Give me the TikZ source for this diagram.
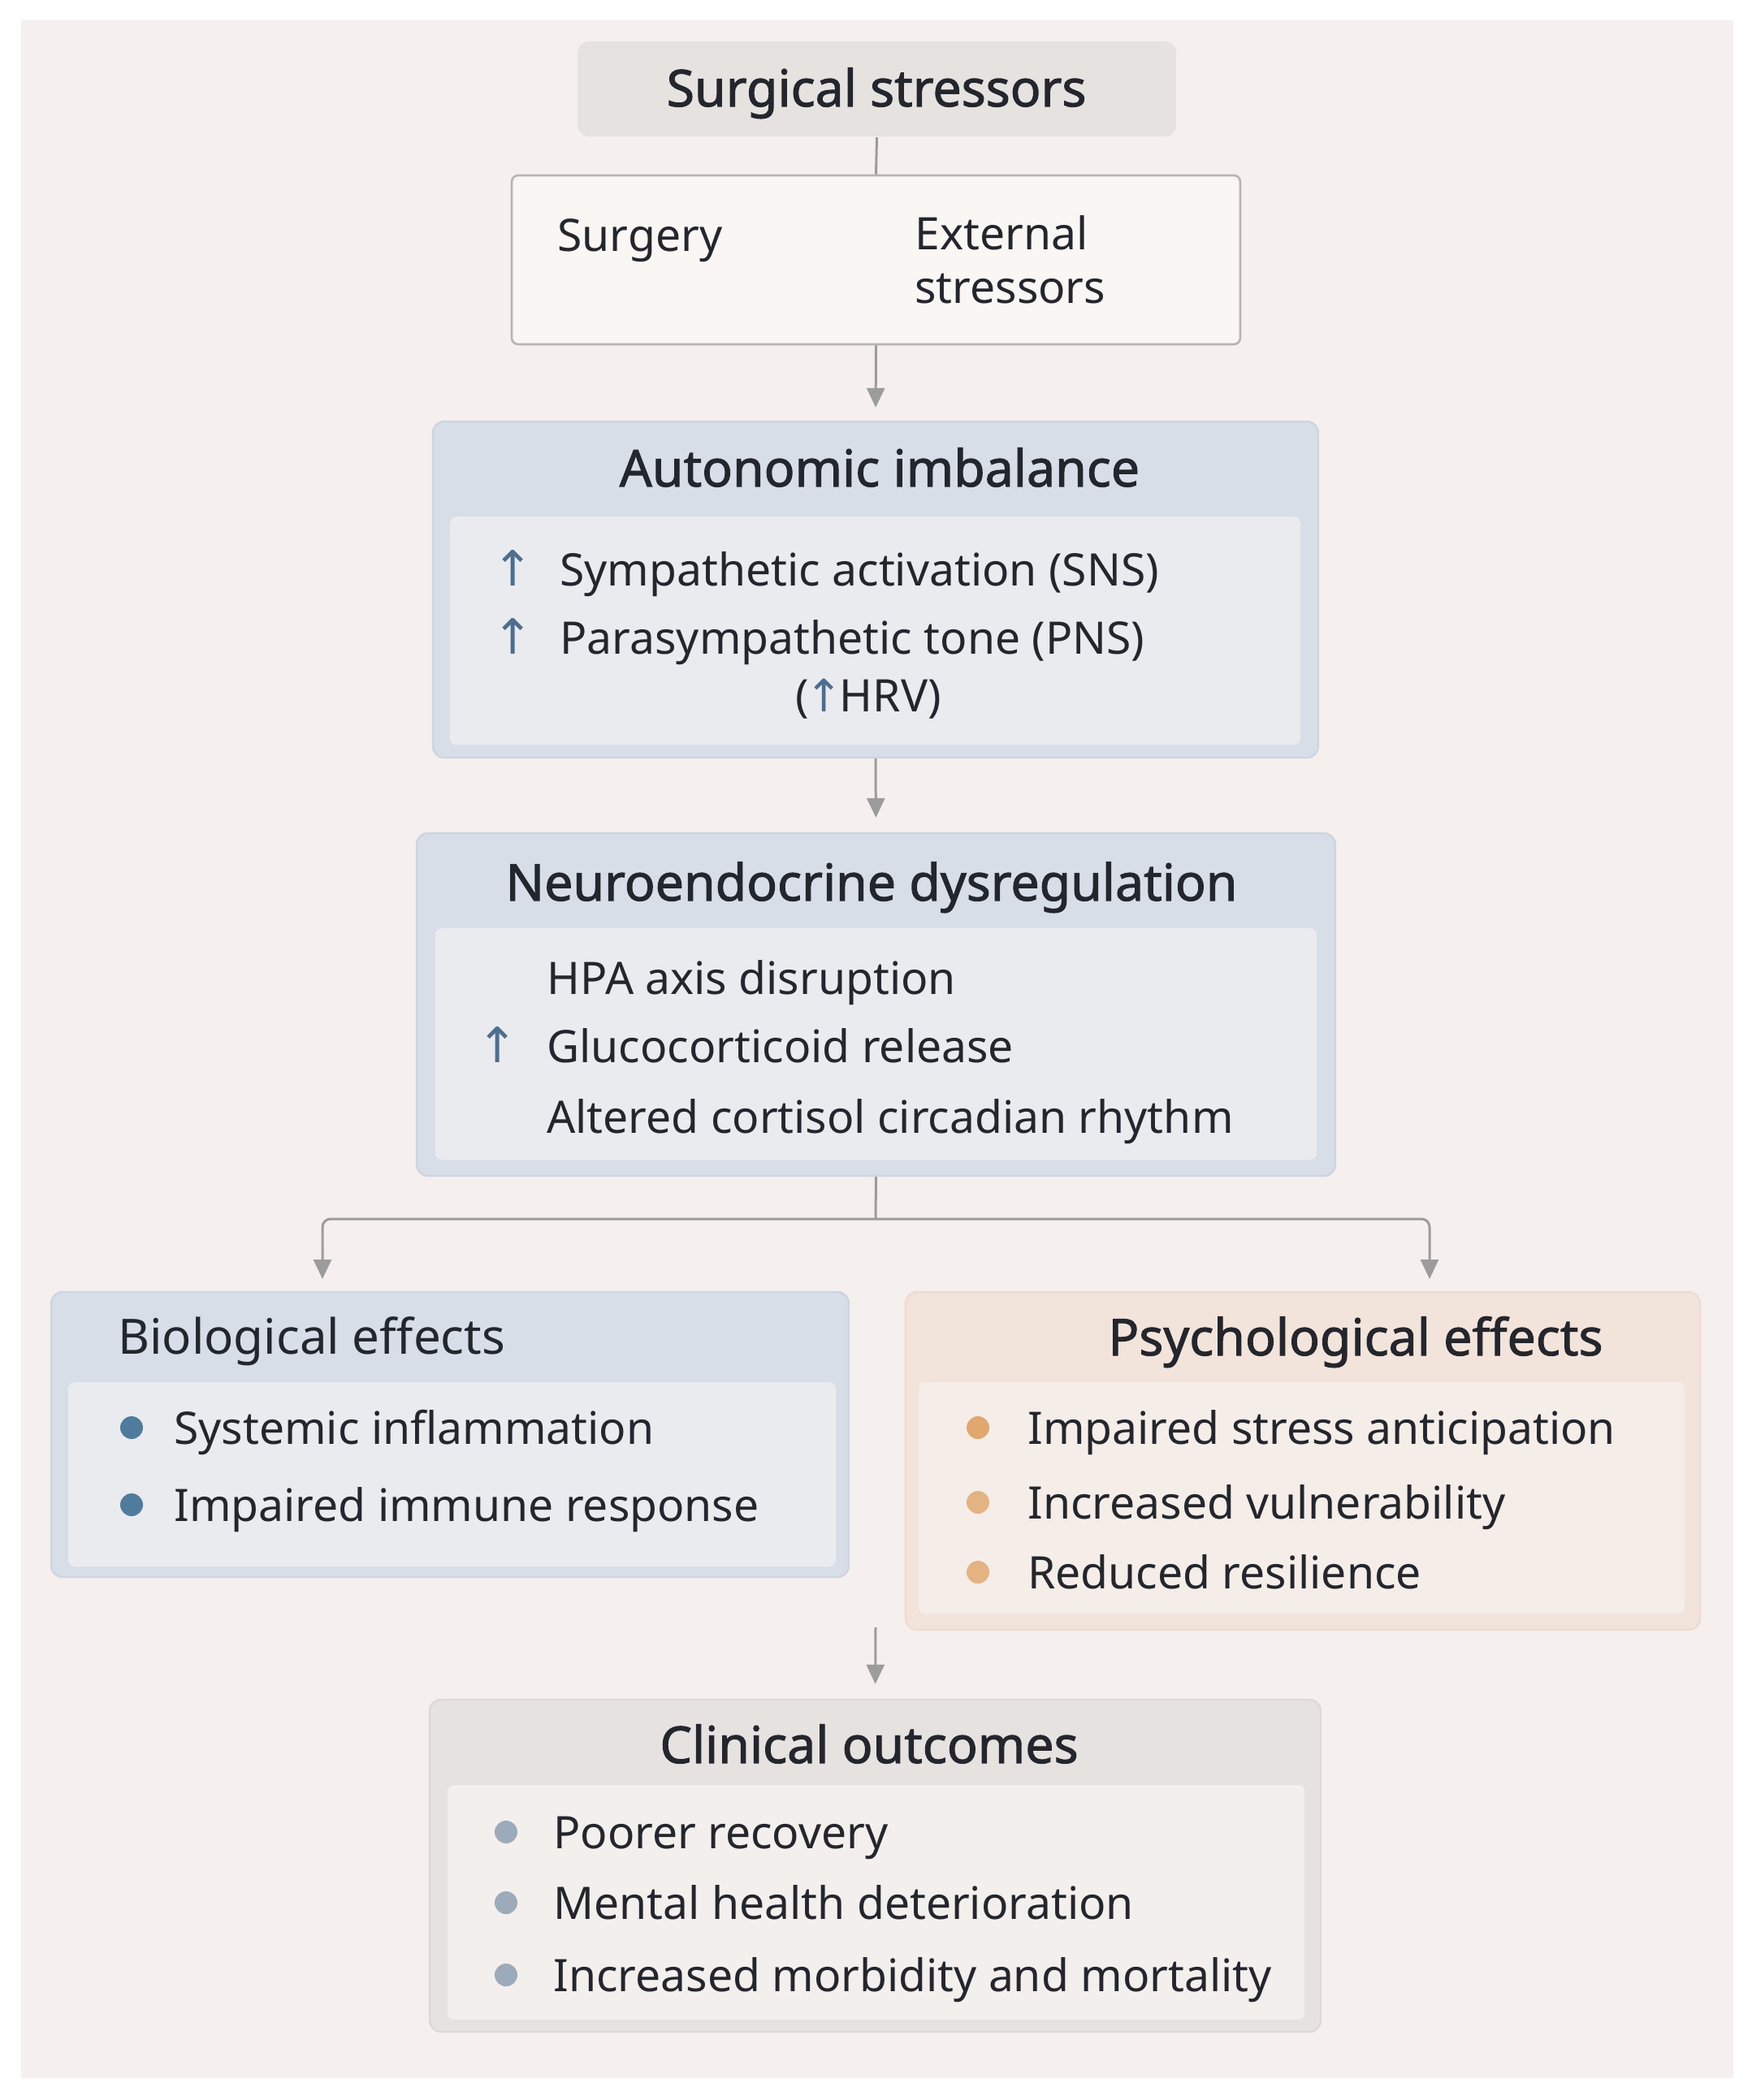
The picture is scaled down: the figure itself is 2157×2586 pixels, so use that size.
\documentclass[tikz,border=0pt]{standalone}
\usepackage{fontspec}
\setmainfont{Noto Sans}
\newfontfamily\semib[FakeBold=1.6]{Noto Sans}
\newfontfamily\arrowfont{DejaVu Sans}
\usetikzlibrary{fit,arrows.meta}
\definecolor{page}{HTML}{FFFFFF}
\definecolor{bg}{HTML}{F5F0ED}
\definecolor{greybox}{HTML}{E5E2E0}
\definecolor{greyin}{HTML}{F2EFED}
\definecolor{greyline}{HTML}{DDD9D6}
\definecolor{frame}{HTML}{B8B4B1}
\definecolor{blueout}{HTML}{D8DEE7}
\definecolor{bluein}{HTML}{EAEBEF}
\definecolor{blueline}{HTML}{CDD5E0}
\definecolor{peachout}{HTML}{F2E4DA}
\definecolor{peachin}{HTML}{F5EDE8}
\definecolor{peachline}{HTML}{EDDCCF}
\definecolor{conn}{HTML}{9C9C9C}
\definecolor{ink}{HTML}{23262D}
\definecolor{upblue}{HTML}{4D6E8E}
\definecolor{dotblue}{HTML}{4F7B9C}
\definecolor{dotorange}{HTML}{E0A86E}
\definecolor{dotgrey}{HTML}{9DAABA}
\begin{document}
\begin{tikzpicture}[x=0.5pt,y=-0.5pt,
  txt/.style={font=\fontsize{27.6}{32}\selectfont, text=ink, inner sep=0pt, text height=20pt, text depth=0pt},
  ttl/.style={txt, font=\fontsize{31.3}{35}\selectfont\semib, text height=22pt},
  boxouter/.style={inner sep=0pt, rounded corners=7pt, line width=1.2pt},
  boxinner/.style={inner sep=0pt, rounded corners=4pt},
  uparr/.style={txt, text=upblue, font=\fontsize{30}{34}\selectfont\arrowfont},
  dotb/.style={circle, inner sep=0pt, minimum size=14pt, fill=#1},
  line/.style={draw=conn, line width=1.5pt},
  arrow/.style={line, -{Triangle[width=11pt,length=12pt]}}
]
\useasboundingbox (0,0) rectangle (2157,2586);
\fill[page] (0,0) rectangle (2157,2586);
\fill[bg] (26,25) rectangle (2134,2559);

% boxes
\node[boxouter, fill=greybox, fit={(711,51)(1448,168)}] (top) {};
\node[boxinner, draw=frame, fill=bg!60!white, line width=1.3pt, fit={(630,216)(1527,424)}] (box2) {};
\node[boxouter, fill=blueout, draw=blueline, fit={(533,519)(1623,933)}] (auto) {};
\node[boxinner, fill=bluein, fit={(554,636)(1601,917)}] (autoin) {};
\node[boxouter, fill=blueout, draw=blueline, fit={(513,1026)(1644,1448)}] (neuro) {};
\node[boxinner, fill=bluein, fit={(536,1143)(1621,1428)}] (neuroin) {};
\node[boxouter, fill=blueout, draw=blueline, fit={(63,1591)(1045,1942)}] (bio) {};
\node[boxinner, fill=bluein, fit={(84,1702)(1029,1929)}] (bioin) {};
\node[boxouter, fill=peachout, draw=peachline, fit={(1115,1591)(2093,2007)}] (psy) {};
\node[boxinner, fill=peachin, fit={(1131,1702)(2074,1987)}] (psyin) {};
\node[boxouter, fill=greybox, draw=greyline, fit={(529,2093)(1626,2502)}] (clin) {};
\node[boxinner, fill=greyin, fit={(551,2198)(1606,2487)}] (clinin) {};

% connectors
\coordinate (split) at (1078,1501);
\coordinate (bioarr) at (397,1591);
\coordinate (psyarr) at (1760,1591);
\coordinate (effout) at (1078,2004);
\draw[line] (top.south) -- (box2.north);
\draw[arrow, shorten >=8pt] (box2.south) -- (auto.north);
\draw[arrow, shorten >=9pt] (auto.south) -- (neuro.north);
\draw[line] (neuro.south) -- (split);
\draw[arrow, rounded corners=5pt, shorten >=8pt] (split) -| (bioarr);
\draw[arrow, rounded corners=5pt, shorten >=8pt] (split) -| (psyarr);
\draw[arrow, shorten >=9pt] (effout) -- (clin.north);

% texts
\node[ttl] (t1) at (1079,109) {Surgical stressors};
\node[txt, anchor=west] (s1) at (686,289) {Surgery};
\node[txt, anchor=west] (s2) at (1126,287) {External};
\node[txt, anchor=west] (s3) at (1126,353) {stressors};

\node[ttl] (t2) at (1083,577) {Autonomic imbalance};
\node[uparr] (a1) at (632,701) {↑};
\node[txt, anchor=west] (a1t) at (689,701) {Sympathetic activation (SNS)};
\node[uparr] (a2) at (632,785) {↑};
\node[txt, anchor=west] (a2t) at (689,785) {Parasympathetic tone (PNS)};
\node[txt] (a3t) at (1069,856) {(\kern-2pt{\arrowfont\textcolor{upblue}{↑}}\kern-2pt HRV)};

\node[ttl] (t3) at (1073,1087) {Neuroendocrine dysregulation};
\node[txt, anchor=west] (n1t) at (673,1204) {HPA axis disruption};
\node[uparr] (n2) at (613,1288) {↑};
\node[txt, anchor=west] (n2t) at (673,1288) {Glucocorticoid release};
\node[txt, anchor=west] (n3t) at (673,1375) {Altered cortisol circadian rhythm};

\node[txt, anchor=west, font=\fontsize{30}{34}\selectfont] (t4) at (145,1647) {Biological effects};
\node[dotb=dotblue] (b1) at (162,1758) {};
\node[txt, anchor=west] (b1t) at (214,1758) {Systemic inflammation};
\node[dotb=dotblue] (b2) at (162,1853) {};
\node[txt, anchor=west] (b2t) at (214,1853) {Impaired immune response};

\node[ttl] (t5) at (1669,1647) {Psychological effects};
\node[dotb=dotorange] (p1) at (1204,1758) {};
\node[txt, anchor=west] (p1t) at (1265,1758) {Impaired stress anticipation};
\node[dotb=dotorange!85!bg] (p2) at (1204,1850) {};
\node[txt, anchor=west] (p2t) at (1265,1850) {Increased vulnerability};
\node[dotb=dotorange!85!bg] (p3) at (1204,1936) {};
\node[txt, anchor=west] (p3t) at (1265,1936) {Reduced resilience};

\node[ttl] (t6) at (1070,2149) {Clinical outcomes};
\node[dotb=dotgrey] (c1) at (623,2256) {};
\node[txt, anchor=west] (c1t) at (681,2256) {Poorer recovery};
\node[dotb=dotgrey] (c2) at (623,2343) {};
\node[txt, anchor=west] (c2t) at (681,2343) {Mental health deterioration};
\node[dotb=dotgrey] (c3) at (623,2432) {};
\node[txt, anchor=west] (c3t) at (681,2432) {Increased morbidity and mortality};
\end{tikzpicture}
\end{document}
